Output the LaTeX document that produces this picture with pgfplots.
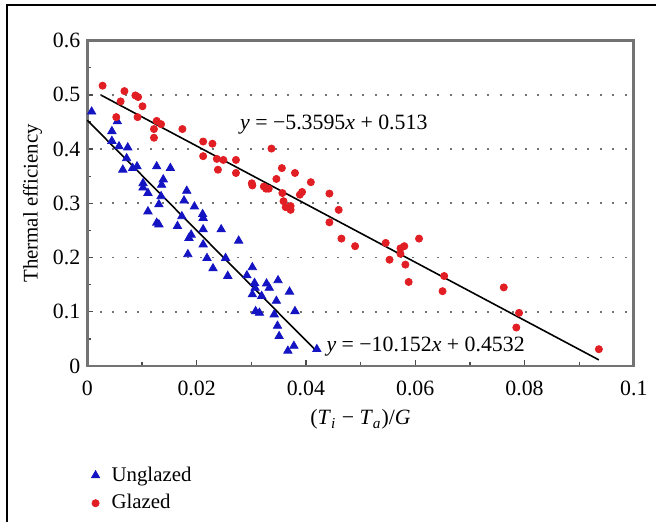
\documentclass[border=0pt]{standalone}
\usepackage{fontspec}
\setmainfont{Liberation Serif}
\usepackage{pgfplots}
\pgfplotsset{compat=1.18}

\definecolor{ublue}{RGB}{20,20,195}
\definecolor{gred}{RGB}{225,30,35}

\begin{document}
\begin{tikzpicture}
\begin{axis}[
	width=275.5pt, height=164pt, scale only axis,
	xmin=0, xmax=0.1, ymin=0, ymax=0.6,
	xtick={0,0.02,0.04,0.06,0.08,0.1},
	xticklabels={0,0.02,0.04,0.06,0.08,0.1},
	ytick={0,0.1,0.2,0.3,0.4,0.5,0.6},
	yticklabels={0,0.1,0.2,0.3,0.4,0.5,0.6},
	minor xtick={0.01,0.03,0.05,0.07,0.09},
	minor ytick={0.05,0.15,0.25,0.35,0.45,0.55},
	xtick pos=bottom, ytick pos=left,
	tick align=inside,
	major tick length=3pt, minor tick length=2pt,
	tick style={black!70, line width=0.7pt},
	axis line style={black!55, line width=1.4pt},
	ymajorgrids,
	major grid style={black!55, line width=0.9pt, dash pattern=on 0.9pt off 5.4pt},
	font=\fontsize{11}{13}\selectfont,
	xticklabel style={yshift=-4pt},
	xlabel={(\textit{T}\textsubscript{\textit{i}} − \textit{T}\textsubscript{\textit{a}})/\textit{G}},
	xlabel style={at={(rel axis cs:0.5,-0.165)}, anchor=center},
	ylabel={Thermal efficiency},
	ylabel style={at={(rel axis cs:-0.1,0.5)}, anchor=center, font=\fontsize{10.5}{12}\selectfont},
	legend style={at={(rel axis cs:-0.004,-0.284)}, anchor=north west, draw=none, fill=none,
		font=\fontsize{10.5}{12}\selectfont, row sep=1.2pt, column sep=4pt},
	legend cell align=left,
	clip=false,
]
% Unglazed
\addplot[only marks, mark=triangle*, mark size=2.4pt, color=ublue] coordinates {
(0.0008,0.469) (0.0055,0.451) (0.0045,0.433) (0.0045,0.415) (0.0058,0.405)
(0.0065,0.362) (0.0074,0.403) (0.0072,0.383) (0.0083,0.365) (0.0091,0.368)
(0.0102,0.337) (0.0102,0.329) (0.0111,0.319) (0.0111,0.285) (0.0127,0.368)
(0.0127,0.264) (0.0131,0.261) (0.0131,0.298) (0.0135,0.313) (0.0136,0.334)
(0.0139,0.344) (0.0152,0.365) (0.0165,0.258) (0.0173,0.276) (0.0177,0.305)
(0.0182,0.323) (0.0184,0.206) (0.0186,0.236) (0.0190,0.242) (0.0196,0.294)
(0.0211,0.280) (0.0212,0.273) (0.0212,0.252) (0.0212,0.224) (0.0219,0.199)
(0.0230,0.180) (0.0245,0.252) (0.0253,0.199) (0.0257,0.166) (0.0277,0.231)
(0.0292,0.167) (0.0302,0.182) (0.0302,0.132) (0.0306,0.153) (0.0307,0.144)
(0.0308,0.101) (0.0315,0.098) (0.0319,0.129) (0.0328,0.152) (0.0333,0.144)
(0.0342,0.095) (0.0346,0.120) (0.0348,0.074) (0.0349,0.158) (0.0351,0.055)
(0.0367,0.028) (0.0370,0.137) (0.0378,0.037) (0.0380,0.101) (0.0420,0.031)
};
\addlegendentry{Unglazed}
% Glazed
\addplot[only marks, mark=*, mark size=1.8pt, color=gred] coordinates {
(0.0028,0.517) (0.0061,0.488) (0.0068,0.507) (0.0053,0.459) (0.0088,0.499)
(0.0093,0.496) (0.0101,0.479) (0.0092,0.459) (0.0127,0.452) (0.0122,0.437)
(0.0122,0.421) (0.0135,0.446) (0.0174,0.437) (0.0212,0.414) (0.0229,0.410)
(0.0212,0.387) (0.0237,0.382) (0.0249,0.380) (0.0239,0.362) (0.0272,0.380)
(0.0272,0.356) (0.0301,0.337) (0.0302,0.333) (0.0323,0.331) (0.0327,0.327)
(0.0332,0.327) (0.0337,0.401) (0.0346,0.345) (0.0356,0.365) (0.0357,0.319)
(0.0359,0.304) (0.0363,0.293) (0.0372,0.295) (0.0372,0.288) (0.0380,0.356)
(0.0389,0.316) (0.0393,0.321) (0.0409,0.339) (0.0443,0.318) (0.0443,0.265)
(0.0460,0.288) (0.0465,0.235) (0.0490,0.221) (0.0546,0.227) (0.0553,0.196)
(0.0573,0.217) (0.0573,0.207) (0.0580,0.221) (0.0582,0.187) (0.0588,0.155)
(0.0607,0.235) (0.0653,0.166) (0.0650,0.138) (0.0762,0.145) (0.0785,0.071)
(0.0790,0.098) (0.0936,0.031)
};
\addlegendentry{Glazed}
% fitted lines
\addplot[black, line width=0.8pt, forget plot] coordinates {(0,0.4532) (0.042,0.0268)};
\addplot[black, line width=0.8pt, forget plot] coordinates {(0.0026,0.4991) (0.0936,0.0113)};
\node[anchor=west, inner sep=0pt] at (axis cs:0.0279,0.446) {\textit{y} = −5.3595\textit{x} + 0.513};
\node[anchor=west, inner sep=0pt] at (axis cs:0.0437,0.035) {\textit{y} = −10.152\textit{x} + 0.4532};
% outer frame of the figure
\draw[black, line width=1.3pt] (rel axis cs:-0.147,-0.48) -- (rel axis cs:-0.147,1.1098) -- (rel axis cs:1.04,1.1098);
\path (rel axis cs:-0.1597,-0.4726) rectangle (rel axis cs:1.0327,1.125);
\end{axis}
\end{tikzpicture}
\end{document}
